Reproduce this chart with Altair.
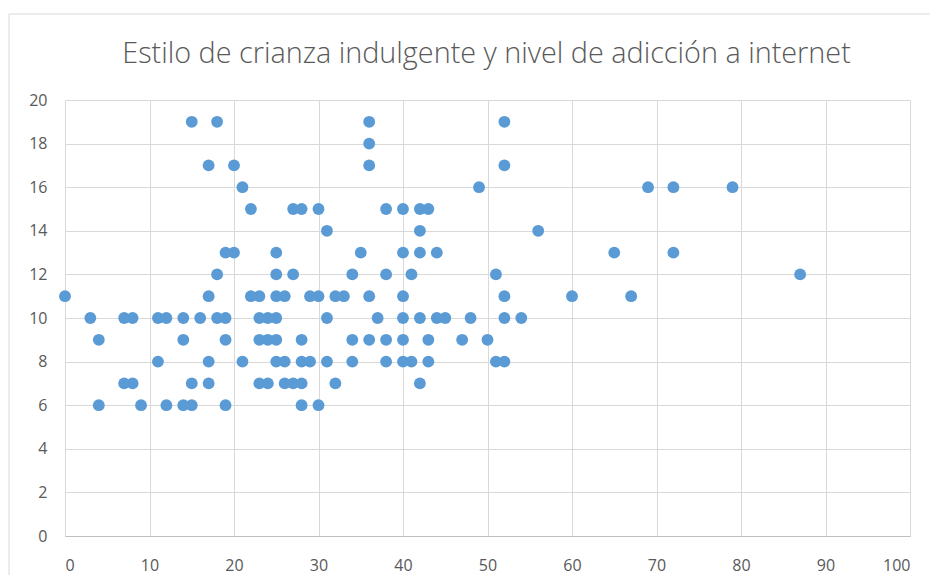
import altair as alt
import pandas as pd

# Estilo de crianza indulgente (x) and nivel de adicción a internet (y)
estilo_indulgente = [
    15, 18, 36, 52,
    36,
    17, 20, 36, 52,
    21, 49, 69, 72, 79,
    22, 27, 28, 30, 38, 40, 42, 43,
    31, 42, 56,
    19, 20, 25, 35, 40, 42, 44, 65, 72,
    18, 25, 27, 34, 38, 41, 51, 87,
    0, 17, 22, 23, 25, 26, 29, 30, 32, 33, 36, 40, 52, 60, 67,
    3, 7, 8, 11, 12, 14, 16, 18, 19, 23, 24, 25, 31, 37, 40, 42, 44, 45, 48, 52, 54,
    4, 14, 19, 23, 24, 25, 28, 34, 36, 38, 40, 43, 47, 50,
    11, 17, 21, 25, 26, 28, 29, 31, 34, 38, 40, 41, 43, 51, 52,
    7, 8, 15, 17, 23, 24, 26, 27, 28, 32, 42,
    4, 9, 12, 14, 15, 19, 28, 30,
]
adiccion_internet = (
    [19] * 4 + [18] * 1 + [17] * 4 + [16] * 5 + [15] * 8 + [14] * 3 + [13] * 9
    + [12] * 8 + [11] * 15 + [10] * 21 + [9] * 14 + [8] * 15 + [7] * 11 + [6] * 8
)

x_ticks = [0, 10, 20, 30, 40, 50, 60, 70, 80, 90, 100]
y_ticks = [0, 2, 4, 6, 8, 10, 12, 14, 16, 18, 20]
titulo = "Estilo de crianza indulgente y nivel de adicción a internet"

df = pd.DataFrame({"x": estilo_indulgente, "y": adiccion_internet})

W, H = 845, 436
grey_text = "#595959"
grid = "#d9d9d9"

points = alt.Chart(df).mark_circle(size=140, opacity=1, color="#5B9BD5").encode(
    x=alt.X("x:Q", scale=alt.Scale(domain=[0, 100], nice=False),
            axis=alt.Axis(values=x_ticks, title=None, grid=True, gridColor=grid,
                          domain=True, domainColor="#bfbfbf", ticks=False,
                          labelColor=grey_text, labelFontSize=16, labelFont="Open Sans",
                          labelPadding=21)),
    y=alt.Y("y:Q", scale=alt.Scale(domain=[0, 20], nice=False),
            axis=alt.Axis(values=y_ticks, title=None, grid=True, gridColor=grid,
                          domain=False, ticks=False,
                          labelColor=grey_text, labelFontSize=16, labelFont="Open Sans",
                          labelPadding=18)),
)

border = alt.Chart(alt.Data(values=[{}])).mark_rect(
    fill=None, fillOpacity=0, stroke=grid, strokeWidth=1, clip=False
).encode(
    x=alt.value(-56), x2=alt.value(W + 60), y=alt.value(-86), y2=alt.value(H + 80)
)

title = alt.Chart(alt.Data(values=[{"t": titulo}])).mark_text(
    font="Open Sans", fontSize=28.8, fontWeight=300, color=grey_text,
    align="center", baseline="alphabetic", clip=False
).encode(
    text="t:N", x=alt.value(W / 2 - 1), y=alt.value(-37)
)

chart = alt.layer(border, title, points).properties(
    width=W, height=H,
    autosize="none",
    padding={"left": 57, "top": 92, "right": 20, "bottom": 39},
).configure_view(stroke=None)

chart.save("out.html", embed_options={"renderer": "svg", "actions": False})
